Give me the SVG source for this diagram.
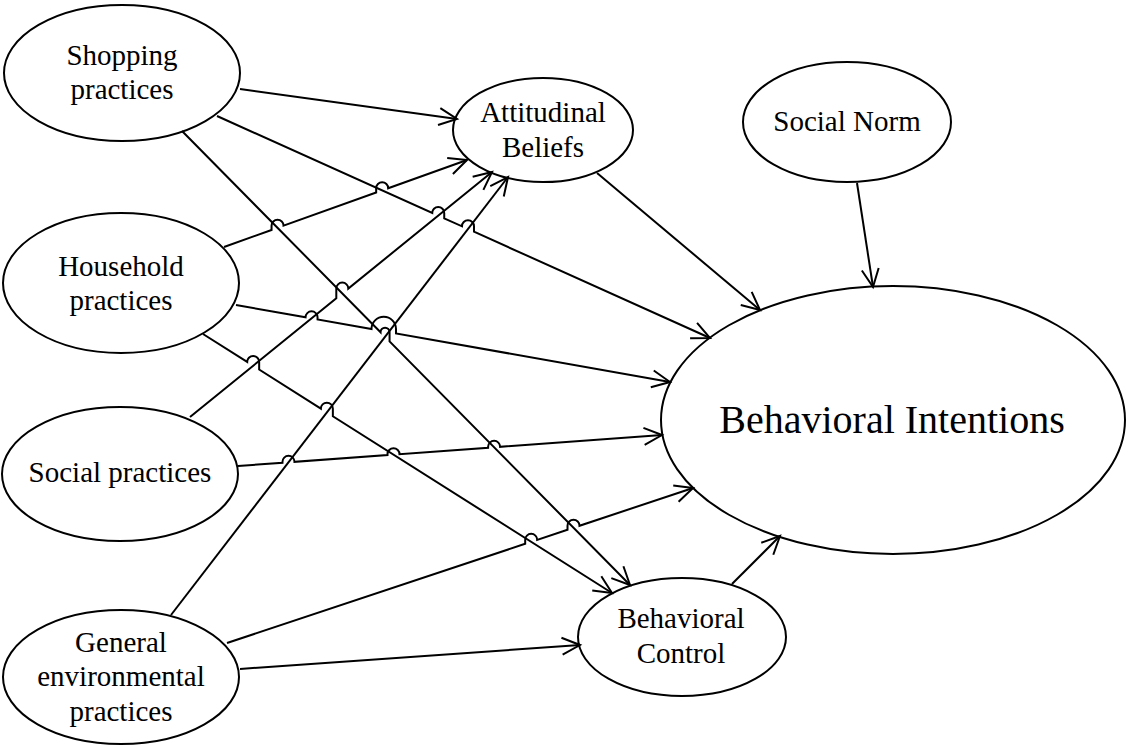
<svg xmlns="http://www.w3.org/2000/svg" width="1128" height="745" viewBox="0 0 1128 745">
  <style>
    .node ellipse { fill: #fff; stroke: #000; stroke-width: 2; }
    .node text { font-family: "Liberation Serif", "Times New Roman", serif; font-size: 29px; fill: #000; text-anchor: middle; }
    .node text.big { font-size: 40px; }
    .edge { fill: none; stroke: #000; stroke-width: 2; stroke-linejoin: miter; marker-end: url(#arrow); }
  </style>
  <defs>
    <marker id="arrow" markerUnits="userSpaceOnUse" viewBox="0 0 22 20" markerWidth="22" markerHeight="20" refX="20" refY="10" orient="auto" overflow="visible">
      <path d="M2,1.5 L20,10 L2,18.5" fill="none" stroke="#000" stroke-width="2"/>
    </marker>
  </defs>
  <rect width="1128" height="745" fill="#fff"/>

  <!-- nodes -->
  <g id="shopping" class="node">
    <ellipse cx="122" cy="73" rx="118" ry="68"/>
    <text x="122" y="65">Shopping</text>
    <text x="122" y="99">practices</text>
  </g>
  <g id="household" class="node">
    <ellipse cx="121" cy="283" rx="118" ry="70"/>
    <text x="121" y="276">Household</text>
    <text x="121" y="310">practices</text>
  </g>
  <g id="social" class="node">
    <ellipse cx="120" cy="474" rx="118" ry="67"/>
    <text x="120" y="482">Social practices</text>
  </g>
  <g id="general" class="node">
    <ellipse cx="121" cy="677" rx="118" ry="67"/>
    <text x="121" y="652">General</text>
    <text x="121" y="686">environmental</text>
    <text x="121" y="721">practices</text>
  </g>
  <g id="attitudinal" class="node">
    <ellipse cx="543" cy="130" rx="90" ry="52"/>
    <text x="543" y="122">Attitudinal</text>
    <text x="543" y="157">Beliefs</text>
  </g>
  <g id="norm" class="node">
    <ellipse cx="847" cy="122" rx="104" ry="60"/>
    <text x="847" y="131">Social Norm</text>
  </g>
  <g id="intentions" class="node">
    <ellipse cx="893" cy="420" rx="232" ry="134"/>
    <text class="big" x="892" y="433">Behavioral Intentions</text>
  </g>
  <g id="control" class="node">
    <ellipse cx="682" cy="637" rx="104" ry="59"/>
    <text x="681" y="628">Behavioral</text>
    <text x="681" y="663">Control</text>
  </g>

  <!-- connectors (crossings drawn with line jumps) -->
  <g id="connectors">
    <path class="edge" d="M240,89 L457,119"/>
    <path class="edge" d="M217,116 L432.23,212.92 A6,6 0 0 1 444.23,212.92 V218.32 L461.98,226.32 A6,6 0 0 1 473.98,226.32 V231.72 L710,338"/>
    <path class="edge" d="M182,131 L380.56,332.22 A4.5,4.5 0 0 1 389.56,332.22 V341.34 L630,585"/>
    <path class="edge" d="M224,247 L271.55,229.98 V225.68 A6,6 0 0 1 283.55,225.68 L376.16,192.53 V188.23 A6,6 0 0 1 388.16,188.23 L467,160"/>
    <path class="edge" d="M236,305 L305.54,317.34 A6,6 0 0 1 317.54,317.34 V319.47 L371.5,329.04 A12.25,12.25 0 0 1 396,329.04 V333.39 L670,382"/>
    <path class="edge" d="M203,334 L247.16,361.96 A6,6 0 0 1 259.16,361.96 V369.56 L320.86,408.63 A6,6 0 0 1 332.86,408.63 V416.23 L612,593"/>
    <path class="edge" d="M190,417 L336.3,298.31 V288.58 A6,6 0 0 1 348.3,288.58 L492,172"/>
    <path class="edge" d="M238,466 L282.48,462.75 V461.87 A6,6 0 0 1 294.48,461.87 L387.5,455.07 V454.19 A6,6 0 0 1 399.5,454.19 L488.1,447.71 V446.84 A6,6 0 0 1 500.1,446.84 L662,435"/>
    <path class="edge" d="M227,643 L525.18,543.82 V539.83 A6,6 0 0 1 537.18,539.83 L567.5,529.75 V525.75 A6,6 0 0 1 579.5,525.75 L693,488"/>
    <path class="edge" d="M240,669 L580,645"/>
    <path class="edge" d="M171,615 L508,177"/>
    <path class="edge" d="M597,173 L760,310"/>
    <path class="edge" d="M857,183 L873,287"/>
    <path class="edge" d="M732,584 L780,536"/>
  </g>
</svg>
